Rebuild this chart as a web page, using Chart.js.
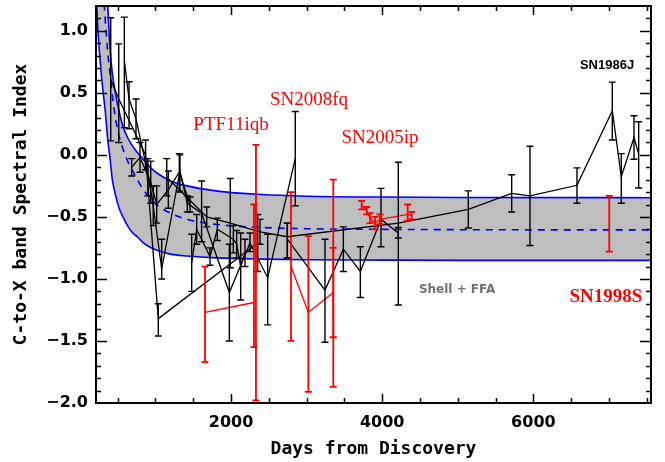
<!DOCTYPE html>
<html><head><meta charset="utf-8">
<script src="https://cdn.jsdelivr.net/npm/chart.js@4/dist/chart.umd.min.js"></script>
<style>html,body{margin:0;padding:0;background:#fff;}#wrap{width:665px;height:462px;}</style>
</head><body><div id="wrap"><canvas id="c" width="665" height="462"></canvas></div>
<script>
// ---------- axis ranges / tick labels ----------
const xMin = 214, xMax = 7556, yMin = -2.0, yMax = 1.2;
const xTickLabels = [2000, 4000, 6000];
const yTickLabels = [-2.0, -1.5, -1.0, -0.5, 0.0, 0.5, 1.0];

// ---------- Shell + FFA model band ----------
const modelDays  = [215, 240, 270, 300, 335, 370, 400, 430, 470, 520, 570, 640, 700, 760, 840, 930, 1030, 1200, 1420, 1800, 2400, 3000, 4000, 5000, 7560];
const modelUpper = [5.0, 4.0, 3.0, 2.2, 1.55, 1.2, 0.85, 0.66, 0.5, 0.35, 0.23, 0.13, 0.07, 0.02, -0.035, -0.1, -0.15, -0.21, -0.25, -0.29, -0.32, -0.333, -0.34, -0.343, -0.345];
const modelLower = [1.3, 1.0, 0.75, 0.55, 0.36, 0.12, -0.03, -0.2, -0.32, -0.43, -0.5, -0.58, -0.63, -0.66, -0.71, -0.745, -0.77, -0.8, -0.815, -0.83, -0.84, -0.845, -0.848, -0.85, -0.85];
const modelMid   = [3.0, 2.5, 2.0, 1.45, 1.1, 0.82, 0.65, 0.48, 0.3, 0.15, 0.05, -0.06, -0.13, -0.2, -0.28, -0.35, -0.41, -0.47, -0.52, -0.56, -0.585, -0.595, -0.6, -0.603, -0.605];

// ---------- black series ----------
const sn1986jDays = [1150, 1679, 1990, 2384, 2745, 4213, 5139, 5713, 5955, 6577, 7044, 7163, 7331, 7393];
const sn1986jVals = [-0.18, -0.5, -0.55, -0.62, -0.66, -0.55, -0.44, -0.31, -0.33, -0.245, 0.356, -0.175, 0.14, 0.006];
const sn1986jHi   = [-0.03, -0.42, -0.19, -0.52, -0.55, -0.06, -0.29, -0.16, 0.07, -0.105, 0.586, 0.01, 0.315, 0.267];
const sn1986jLo   = [-0.33, -0.58, -0.91, -0.72, -0.83, -1.21, -0.59, -0.46, -0.73, -0.39, 0.12, -0.39, -0.035, -0.267];

const blkBDays = [409, 515, 870, 1038, 2353];
const blkBVals = [0.61, 0.45, 0.0, -1.32, -0.71];
const blkBHi   = [1.105, 0.895, 0.12, -1.2, -0.48];
const blkBLo   = [0.113, 0.10, -0.12, -1.46, -0.94];

const blkCDays = [589, 651, 743, 900, 971, 1083, 1325, 1422, 1611, 1978, 2251, 2485, 2850];
const blkCVals = [0.76, 0.45, 0.29, -0.15, -0.41, -0.92, -0.13, -0.39, -0.47, -1.11, -0.71, -0.99, -0.03];
const blkCHi   = [1.11, 0.59, 0.45, -0.03, -0.25, -0.68, 0.0, -0.33, -0.21, -0.72, -0.63, -0.64, 0.35];
const blkCLo   = [0.22, 0.21, 0.13, -0.33, -0.57, -1.0, -0.3, -0.46, -0.7, -1.5, -0.78, -1.37, -0.41];

const blkDDays = [2745, 3243, 3486, 3711, 3984, 4213];
const blkDVals = [-0.68, -1.09, -0.76, -0.94, -0.52, -0.63];
const blkDHi   = [-0.55, -0.68, -0.58, -0.74, -0.27, -0.585];
const blkDLo   = [-0.83, -1.51, -0.94, -1.15, -0.74, -0.67];

const blkEDays = [1480, 1546, 1722, 1819, 2031, 2075, 2128, 2185];
const blkEVals = [-0.87, -0.6, -0.82, -0.6, -0.68, -0.72, -0.9, -0.79];
const blkEHi   = [-0.64, -0.48, -0.75, -0.51, -0.57, -0.61, -0.63, -0.68];
const blkELo   = [-1.1, -0.72, -0.89, -0.69, -0.79, -0.83, -1.17, -0.9];

const blkFDays = [686, 796, 938, 1017, 1171, 1316, 1458];
const blkFVals = [-0.1, -0.02, -0.22, -0.4, -0.28, -0.14, -0.4];
const blkFHi   = [-0.03, 0.1, -0.05, -0.25, -0.13, 0.01, -0.34];
const blkFLo   = [-0.17, -0.14, -0.39, -0.55, -0.43, -0.29, -0.46];

// ---------- red series ----------
const ptf11iqbDays = [1656, 2304];
const ptf11iqbVals = [-1.27, -1.19];
const ptf11iqbHi   = [-0.9, -0.4];
const ptf11iqbLo   = [-1.67, -1.55];

const redExtraDays = [2330, 3353];
const redExtraVals = [-0.95, -1.11];
const redExtraHi   = [0.08, -0.75];
const redExtraLo   = [-1.98, -1.47];

const sn2008fqDays = [2794, 3023, 3353];
const sn2008fqVals = [-0.9, -1.27, -1.11];
const sn2008fqHi   = [-0.3, -0.655, -0.2];
const sn2008fqLo   = [-1.5, -1.91, -1.87];

const sn2005ipDays = [3729, 3795, 3839, 3905, 3971, 4337, 4390];
const sn2005ipVals = [-0.41, -0.45, -0.51, -0.55, -0.52, -0.48, -0.49];
const sn2005ipHi   = [-0.37, -0.42, -0.47, -0.50, -0.48, -0.40, -0.46];
const sn2005ipLo   = [-0.44, -0.48, -0.55, -0.60, -0.56, -0.53, -0.52];

const sn1998sDays = [7004];
const sn1998sVals = [-0.56];
const sn1998sHi   = [-0.33];
const sn1998sLo   = [-0.78];

// ---------- text labels ----------
const labelTexts = ['PTF11iqb', 'SN2008fq', 'SN2005ip', 'SN1998S', 'Shell + FFA', 'SN1986J'];
const labelDays  = [2000, 3032, 3971, 6960, 4990, 6974];
const labelVals  = [0.24, 0.445, 0.135, -1.15, -1.086, 0.725];

// ---------- build ----------
const BLACK = '#000000', RED = '#ff0000', BLUE = '#0000ff';
function pts(d, v) { return d.map((x, i) => ({x: x, y: v[i]})); }
function series(d, v, hi, lo, color, line) {
  return {data: pts(d, v), barHi: hi, barLo: lo, borderColor: color, barColor: color,
          borderWidth: 1.3, showLine: line, pointRadius: 0, fill: false, tension: 0, order: 0,
          barWidth: color === RED ? 1.8 : 1.4};
}
const datasets = [
  {data: pts(modelDays, modelUpper), borderColor: BLUE, borderWidth: 1.6, pointRadius: 0, fill: false, cubicInterpolationMode: 'monotone', order: 10},
  {data: pts(modelDays, modelLower), borderColor: BLUE, borderWidth: 1.6, pointRadius: 0, fill: 0, backgroundColor: '#bebebe', cubicInterpolationMode: 'monotone', order: 11},
  {data: pts(modelDays, modelMid), borderColor: BLUE, borderWidth: 1.6, borderDash: [7, 6], pointRadius: 0, fill: false, cubicInterpolationMode: 'monotone', order: 9},
  series(blkFDays, blkFVals, blkFHi, blkFLo, BLACK, true),
  series(blkEDays, blkEVals, blkEHi, blkELo, BLACK, true),
  series(blkDDays, blkDVals, blkDHi, blkDLo, BLACK, true),
  series(blkCDays, blkCVals, blkCHi, blkCLo, BLACK, true),
  series(blkBDays, blkBVals, blkBHi, blkBLo, BLACK, true),
  series(sn1986jDays, sn1986jVals, sn1986jHi, sn1986jLo, BLACK, true),
  series(ptf11iqbDays, ptf11iqbVals, ptf11iqbHi, ptf11iqbLo, RED, true),
  series(redExtraDays, redExtraVals, redExtraHi, redExtraLo, RED, false),
  series(sn2008fqDays, sn2008fqVals, sn2008fqHi, sn2008fqLo, RED, true),
  series(sn2005ipDays, sn2005ipVals, sn2005ipHi, sn2005ipLo, RED, true),
  series(sn1998sDays, sn1998sVals, sn1998sHi, sn1998sLo, RED, false)
];

const errorBars = {
  id: 'errorBars',
  afterDatasetsDraw(chart) {
    const {ctx, chartArea: a, scales: {x, y}} = chart;
    ctx.save();
    ctx.beginPath(); ctx.rect(a.left, a.top, a.right - a.left, a.bottom - a.top); ctx.clip();
    chart.data.datasets.forEach(ds => {
      if (!ds.barHi) return;
      ctx.strokeStyle = ds.barColor; ctx.lineWidth = ds.barWidth;
      ds.data.forEach((p, j) => {
        const px = x.getPixelForValue(p.x);
        const ph = y.getPixelForValue(ds.barHi[j]);
        const pl = y.getPixelForValue(ds.barLo[j]);
        ctx.beginPath();
        ctx.moveTo(px, ph); ctx.lineTo(px, pl);
        ctx.moveTo(px - 3.5, ph); ctx.lineTo(px + 3.5, ph);
        ctx.moveTo(px - 3.5, pl); ctx.lineTo(px + 3.5, pl);
        ctx.stroke();
      });
    });
    ctx.restore();
  }
};

const textLabels = {
  id: 'textLabels',
  afterDatasetsDraw(chart) {
    const {ctx, scales: {x, y}} = chart;
    const styles = [
      ['19px "Liberation Serif"', RED], ['19px "Liberation Serif"', RED], ['19px "Liberation Serif"', RED],
      ['bold 19px "Liberation Serif"', RED], ['bold 12px "DejaVu Sans"', '#707070'], ['bold 13px "Liberation Sans"', BLACK]
    ];
    ctx.save();
    ctx.textAlign = 'center'; ctx.textBaseline = 'middle';
    labelTexts.forEach((t, i) => {
      ctx.font = styles[i][0]; ctx.fillStyle = styles[i][1];
      ctx.fillText(t, x.getPixelForValue(labelDays[i]), y.getPixelForValue(labelVals[i]));
    });
    ctx.restore();
  }
};

const frame = {
  id: 'frame',
  afterDraw(chart) {
    const {ctx, chartArea: a, scales: {x, y}} = chart;
    ctx.save();
    ctx.strokeStyle = '#000'; ctx.lineWidth = 1.5;
    ctx.beginPath();
    for (let v = 500; v < xMax; v += 500) {
      const px = Math.round(x.getPixelForValue(v)) + 0.5;
      const len = (v % 2000 === 0) ? 9 : 5;
      ctx.moveTo(px, a.bottom); ctx.lineTo(px, a.bottom - len);
      ctx.moveTo(px, a.top); ctx.lineTo(px, a.top + len);
    }
    for (let k = -19; k <= 11; k++) {
      const v = k / 10;
      const py = Math.round(y.getPixelForValue(v)) + 0.5;
      const len = (k % 5 === 0) ? 11 : 5;
      ctx.moveTo(a.left, py); ctx.lineTo(a.left + len, py);
      ctx.moveTo(a.right, py); ctx.lineTo(a.right - len, py);
    }
    ctx.stroke();
    ctx.lineWidth = 2;
    ctx.strokeRect(a.left, a.top, a.right - a.left, a.bottom - a.top);
    ctx.restore();
  }
};

new Chart(document.getElementById('c'), {
  type: 'line',
  data: {datasets: datasets},
  options: {
    responsive: false, animation: false, devicePixelRatio: 1,
    layout: {padding: {left: 0, top: 6, right: 14, bottom: 0}},
    plugins: {legend: {display: false}, tooltip: {enabled: false}},
    scales: {
      x: {
        type: 'linear', min: xMin, max: xMax,
        grid: {display: false, drawTicks: false}, border: {display: false},
        afterBuildTicks: s => { s.ticks = xTickLabels.map(v => ({value: v})); },
        afterFit: s => { s.height = 59; s.paddingLeft = 0; s.paddingRight = 0; },
        ticks: {autoSkip: false, maxRotation: 0, padding: 10, color: '#000',
                font: {family: 'DejaVu Sans', weight: 'bold', size: 16}, callback: v => String(v)},
        title: {display: true, text: 'Days from Discovery', color: '#000', padding: {top: 0, bottom: 2},
                font: {family: 'DejaVu Sans Mono', weight: 'bold', size: 18}}
      },
      y: {
        type: 'linear', min: yMin, max: yMax,
        grid: {display: false, drawTicks: false}, border: {display: false},
        afterBuildTicks: s => { s.ticks = yTickLabels.map(v => ({value: v})); },
        afterFit: s => { s.width = 96; s.paddingTop = 0; s.paddingBottom = 0; },
        ticks: {autoSkip: false, padding: 8, color: '#000',
                font: {family: 'DejaVu Sans', weight: 'bold', size: 16},
                callback: v => v.toFixed(1).replace('-', '\u2212')},
        title: {display: true, text: 'C-to-X band Spectral Index', color: '#000', padding: {top: 11, bottom: 0},
                font: {family: 'DejaVu Sans Mono', weight: 'bold', size: 18}}
      }
    }
  },
  plugins: [errorBars, textLabels, frame]
});
</script></body></html>
